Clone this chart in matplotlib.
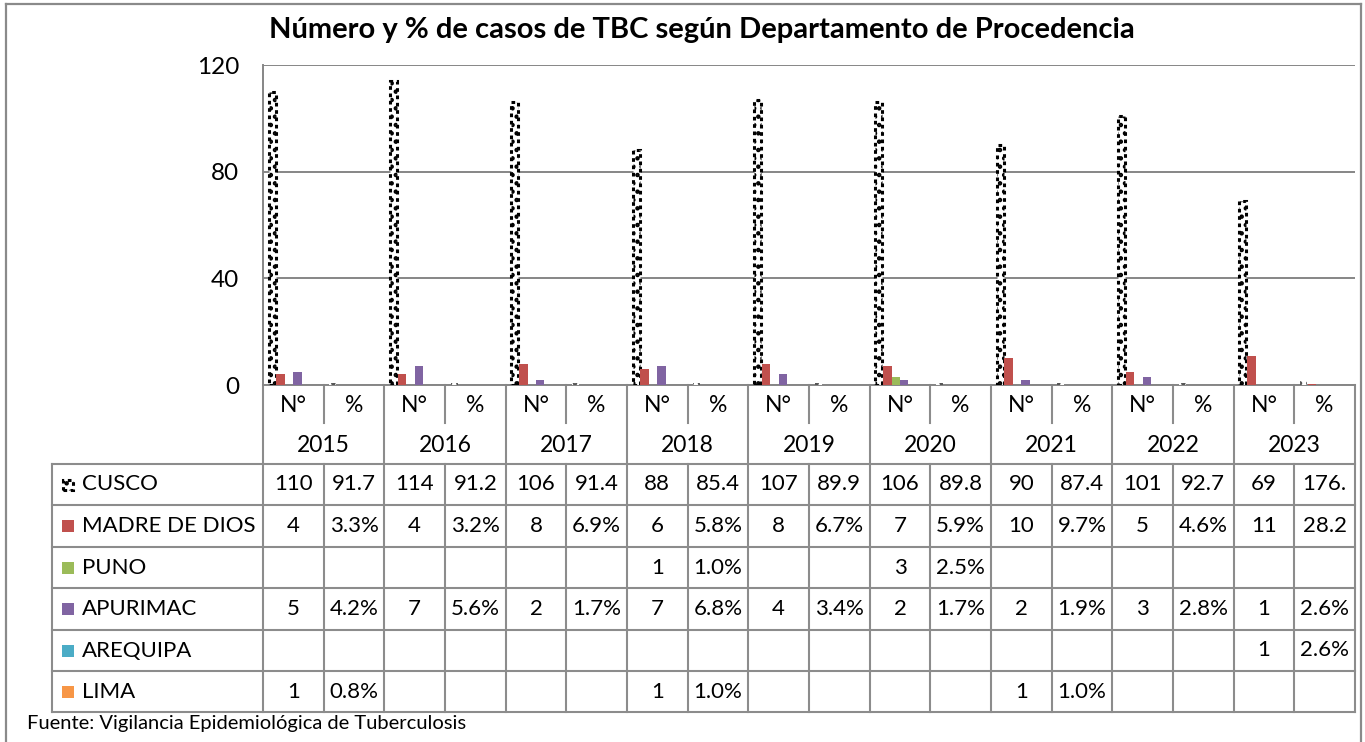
import numpy as np
import matplotlib.pyplot as plt
from matplotlib.patches import Rectangle
from matplotlib.lines import Line2D

plt.rcParams['font.family'] = ['Lato', 'DejaVu Sans']
plt.rcParams['hatch.linewidth'] = 2.0

years = ['2015', '2016', '2017', '2018', '2019', '2020', '2021', '2022', '2023']
sub_labels = ['N°', '%']
departments = ['CUSCO', 'MADRE DE DIOS', 'PUNO', 'APURIMAC', 'AREQUIPA', 'LIMA']
colors = ['white', '#C0504D', '#9BBB59', '#8064A2', '#4BACC6', '#F79646']

cusco_n = [110, 114, 106, 88, 107, 106, 90, 101, 69]
cusco_pct = [0.917, 0.912, 0.914, 0.854, 0.899, 0.898, 0.874, 0.927, 1.769]
madre_n = [4, 4, 8, 6, 8, 7, 10, 5, 11]
madre_pct = [0.033, 0.032, 0.069, 0.058, 0.067, 0.059, 0.097, 0.046, 0.282]
puno_n = [None, None, None, 1, None, 3, None, None, None]
puno_pct = [None, None, None, 0.010, None, 0.025, None, None, None]
apurimac_n = [5, 7, 2, 7, 4, 2, 2, 3, 1]
apurimac_pct = [0.042, 0.056, 0.017, 0.068, 0.034, 0.017, 0.019, 0.028, 0.026]
arequipa_n = [None, None, None, None, None, None, None, None, 1]
arequipa_pct = [None, None, None, None, None, None, None, None, 0.026]
lima_n = [1, None, None, 1, None, None, 1, None, None]
lima_pct = [0.008, None, None, 0.010, None, None, 0.010, None, None]

series_n = [cusco_n, madre_n, puno_n, apurimac_n, arequipa_n, lima_n]
series_pct = [cusco_pct, madre_pct, puno_pct, apurimac_pct, arequipa_pct, lima_pct]

# cells kept as text in the source sheet: shown in the table, not drawn as bars
not_charted = [('PUNO', '2018'), ('LIMA', '2015'), ('LIMA', '2018'),
               ('LIMA', '2021'), ('APURIMAC', '2023'), ('AREQUIPA', '2023')]

y_ticks = [0, 40, 80, 120]

W, H = 1365, 742
GRID = '#868686'
LINE = '#8c8c8c'
FS = 16
FS_AX = 16.5

fig = plt.figure(figsize=(W / 100, H / 100), dpi=100)
ax = fig.add_axes([263 / W, 1 - 385 / H, 1092 / W, 320 / H])

n_cat = len(years) * 2
ax.set_xlim(0, n_cat)
ax.set_ylim(0, 120)

# --- bars: N° and % interleaved per year ---
bar_w = 1 / 7.15
for k, (dep, col) in enumerate(zip(departments, colors)):
    vals = []
    for yr, n, p in zip(years, series_n[k], series_pct[k]):
        if (dep, yr) in not_charted:
            n, p = None, None
        vals += [n, p]
    x = np.arange(n_cat) + 0.5 + (k - 2.5) * bar_w
    h = np.array([np.nan if v is None else v for v in vals], dtype=float)
    if dep == 'CUSCO':
        # patterned bar: dotted outline plus dot hatch (N° columns)
        ax.bar(x[0::2], h[0::2], bar_w * 0.85, color='white',
               edgecolor='black', hatch='..', linewidth=2.2,
               linestyle=(0, (1.2, 1.2)), zorder=3)
        ax.bar(x[1::2], h[1::2], bar_w * 0.85, color='white',
               edgecolor='#555555', hatch='..', linewidth=0, zorder=3)
    else:
        ax.bar(x, h, bar_w, color=col, linewidth=0, zorder=3)

ax.set_yticks(y_ticks)
ax.set_yticklabels([str(t) for t in y_ticks], fontsize=17.5)
ax.tick_params(axis='y', length=0, pad=17)
ax.set_xticks([])
ax.yaxis.grid(True, color=GRID, linewidth=1.4)
ax.set_axisbelow(True)
for s in ['top', 'right']:
    ax.spines[s].set_visible(False)
for s in ['left', 'bottom']:
    ax.spines[s].set_color(GRID)
    ax.spines[s].set_linewidth(1.4)

# --- category labels and data table under the axis ---
tr = ax.get_xaxis_transform()


def ay(py):
    return (385 - py) / 320


def dx(px):
    return (px - 263) / (1092 / n_cat)


row_edges = [464, 505, 547, 588, 630, 671, 712]
left = dx(52)
kw = dict(transform=tr, clip_on=False, color=LINE, linewidth=1.5)

for i in range(n_cat + 1):
    if i % 2 == 0:
        ax.add_line(Line2D([i, i], [ay(385), ay(712)], **kw))
    else:
        ax.add_line(Line2D([i, i], [ay(385), ay(423)], **kw))
        ax.add_line(Line2D([i, i], [ay(464), ay(712)], **kw))
ax.add_line(Line2D([left, left], [ay(464), ay(712)], **kw))
for py in row_edges:
    ax.add_line(Line2D([left, n_cat], [ay(py), ay(py)], **kw))

for i in range(n_cat):
    ax.text(i + 0.5, ay(406), sub_labels[i % 2], transform=tr, ha='center',
            va='center', fontsize=FS_AX)
for j, yr in enumerate(years):
    ax.text(2 * j + 1, ay(445), yr, transform=tr, ha='center', va='center',
            fontsize=FS_AX)

for k, dep in enumerate(departments):
    yc = (row_edges[k] + row_edges[k + 1]) / 2
    key_h = 12 / 320
    if dep == 'CUSCO':
        ax.add_patch(Rectangle((dx(63), ay(yc + 5)), dx(73) - dx(63),
                               10 / 320, transform=tr, clip_on=False,
                               facecolor='white', edgecolor='black',
                               hatch='..', linewidth=2.2,
                               linestyle=(0, (1.2, 1.2))))
    else:
        ax.add_patch(Rectangle((dx(62), ay(yc + 6)), dx(74) - dx(62), key_h,
                               transform=tr, clip_on=False,
                               facecolor=colors[k], linewidth=0))
    ax.text(dx(82), ay(yc), dep, transform=tr, ha='left', va='center',
            fontsize=FS)
    for j in range(len(years)):
        n = series_n[k][j]
        p = series_pct[k][j]
        if n is not None:
            ax.text(2 * j + 0.5, ay(yc), str(n), transform=tr, ha='center',
                    va='center', fontsize=FS)
        if p is not None:
            lab = f'{p * 100:.1f}%'[:4]
            ax.text(2 * j + 1.5, ay(yc), lab, transform=tr, ha='center',
                    va='center', fontsize=FS)

# --- title, source, outer frame ---
fig.text(702 / W, 1 - 30 / H,
         'Número y % de casos de TBC según Departamento de Procedencia',
         ha='center', va='center', fontsize=21, fontweight='bold')
fig.text(27 / W, 1 - 724 / H, 'Fuente: Vigilancia Epidemiológica de Tuberculosis',
         ha='left', va='center', fontsize=14.5)

fkw = dict(transform=fig.transFigure, color='#8a8a8a', linewidth=1.6)
fig.add_artist(Line2D([6 / W, 1361 / W], [1 - 4 / H, 1 - 4 / H], **fkw))
fig.add_artist(Line2D([6 / W, 6 / W], [1 - 4 / H, 0], **fkw))
fig.add_artist(Line2D([1361 / W, 1361 / W], [1 - 4 / H, 0], **fkw))

fig.savefig('out.png', dpi=100)
